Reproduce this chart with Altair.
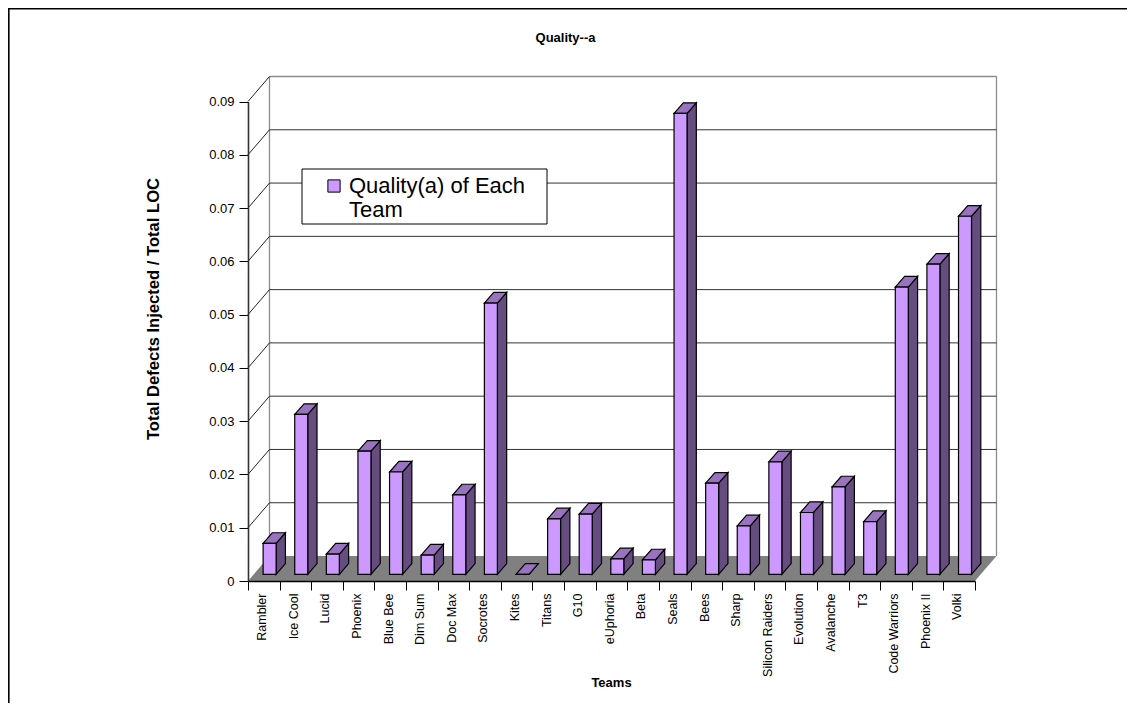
import altair as alt
import pandas as pd

teams = ["Rambler", "Ice Cool", "Lucid", "Phoenix", "Blue Bee", "Dim Sum", "Doc Max", "Socrotes",
         "Kites", "Titans", "G10", "eUphoria", "Beta", "Seals", "Bees", "Sharp", "Silicon Raiders",
         "Evolution", "Avalanche", "T3", "Code Warriors", "Phoenix II", "Volki"]
values = [0.0058, 0.0300, 0.0038, 0.0231, 0.0192, 0.0036, 0.0149, 0.0509, 0.0, 0.0104, 0.0113,
          0.0029, 0.0027, 0.0865, 0.0171, 0.0091, 0.0211, 0.0116, 0.0164, 0.0099, 0.0539, 0.0582, 0.0672]
y_ticks = [0, 0.01, 0.02, 0.03, 0.04, 0.05, 0.06, 0.07, 0.08, 0.09]
series_name = "Quality(a) of Each Team"

# projection of the 3-D depth into data units
N = len(teams)
wall_dx, wall_dy = 0.68, 0.00469
bar_dx, bar_dy = 0.294, 0.0020
bar_shift_x, bar_shift_y = 0.184, 0.00126
bar_w = 0.411

W, H = 1119, 695
OX, OY = 8, 8
x_scale = alt.Scale(domain=[0, N], range=[248 - OX, 975 - OX], nice=False, zero=False)
y_scale = alt.Scale(domain=[0, 0.09], range=[581 - OY, 101.5 - OY], nice=False, zero=False)

team_js = "[" + ",".join(f"'{t}'" for t in teams) + ",'']"
x_axis = alt.Axis(
    orient="bottom", offset=581 - OY - H, values=list(range(N + 1)), zindex=1,
    labelExpr=f"{team_js}[datum.value]", labelAngle=270, labelAlign="right", labelBaseline="middle",
    labelOffset=13.6, labelPadding=3, labelOverlap=False, labelFontSize=12.5, labelColor="#000",
    labelFont="Liberation Sans", tickSize=9, tickColor="#000", domainColor="#000", domainWidth=1.3,
    grid=False, title="Teams", titleFont="Liberation Sans", titleFontSize=13, titleFontWeight="bold",
    titleColor="#000", titleX=611 - OX, titleY=682 - 581 - 6)
y_axis = alt.Axis(
    orient="left", offset=-(248 - OX), values=y_ticks, format=".2~f", zindex=1, labelFontSize=13, labelColor="#000",
    labelFont="Liberation Sans", labelPadding=5, tickSize=9, tickColor="#000", domainColor="#333",
    domainWidth=1.6, grid=False, title="Total Defects Injected / Total LOC", titleFont="Liberation Sans",
    titleFontSize=16.6, titleFontWeight="bold", titleColor="#000", titleAngle=270,
    titleX=153 - 248, titleY=308.5 - OY, titleAlign="center", titleBaseline="middle")

X = lambda f: alt.X(f, scale=x_scale, axis=x_axis)
Y = lambda f: alt.Y(f, scale=y_scale, axis=y_axis)

front, side, top = [], [], []
for i, (t, v) in enumerate(zip(teams, values)):
    x0 = i + 0.5 - bar_w / 2 + bar_shift_x
    x1 = x0 + bar_w
    b = bar_shift_y
    front.append(dict(team=t, x0=x0, x1=x1, y0=b, y1=b + v, series=series_name))
    side.append(dict(team=t, x=x1, lo=b, hi=b + v))
    side.append(dict(team=t, x=x1 + bar_dx, lo=b + bar_dy, hi=b + v + bar_dy))
    top.append(dict(team=t, y=b + v, a=x0, c=x1))
    top.append(dict(team=t, y=b + v + bar_dy, a=x0 + bar_dx, c=x1 + bar_dx))
front, side, top = map(pd.DataFrame, (front, side, top))

floor = pd.DataFrame([dict(y=0, a=0, c=N), dict(y=wall_dy, a=wall_dx, c=N + wall_dx)])
grid = pd.DataFrame([dict(v=v, a=wall_dx, c=N + wall_dx, y=v + wall_dy) for v in y_ticks[1:-1]])
diag = pd.DataFrame([r for v in y_ticks[1:] for r in (dict(v=v, x=0, y=v), dict(v=v, x=wall_dx, y=v + wall_dy))])
top_y = y_ticks[-1] + wall_dy
wall_edges = pd.DataFrame([
    dict(k="l", x=wall_dx, y=wall_dy), dict(k="l", x=wall_dx, y=top_y),
    dict(k="t", x=wall_dx, y=top_y), dict(k="t", x=N + wall_dx, y=top_y),
    dict(k="r", x=N + wall_dx, y=top_y), dict(k="r", x=N + wall_dx, y=wall_dy),
])

frame = alt.Chart(pd.DataFrame({"k": [0]}))
frame_top = frame.mark_rule(color="#000", strokeWidth=1.6).encode(
    x=alt.value(0), x2=alt.value(W), y=alt.value(0.8))
frame_left = frame.mark_rule(color="#000", strokeWidth=1.6).encode(
    x=alt.value(0.8), y=alt.value(0), y2=alt.value(H))
legend_box = frame.mark_rect(fill="#fff", stroke="#000", strokeWidth=1).encode(
    x=alt.value(302 - OX), x2=alt.value(547 - OX), y=alt.value(169 - OY), y2=alt.value(224 - OY))

floor_l = alt.Chart(floor).mark_area(orient="horizontal", color="#808080").encode(
    y=Y("y:Q"), x=X("a:Q"), x2="c:Q")
wall_l = alt.Chart(wall_edges).mark_line(color="#8c8c8c", strokeWidth=1.3).encode(
    x=X("x:Q"), y=Y("y:Q"), detail="k:N")
grid_l = alt.Chart(grid).mark_rule(color="#333", strokeWidth=1).encode(
    x=X("a:Q"), x2="c:Q", y=Y("y:Q"))
diag_l = alt.Chart(diag).mark_line(color="#222", strokeWidth=1).encode(
    x=X("x:Q"), y=Y("y:Q"), detail="v:Q")

side_l = alt.Chart(side).mark_area(orient="vertical", color="#664D80", stroke="#000", strokeWidth=1.2).encode(
    x=X("x:Q"), y=Y("lo:Q"), y2="hi:Q", detail="team:N")
top_l = alt.Chart(top).mark_area(orient="horizontal", color="#9973BF", stroke="#000", strokeWidth=1.2).encode(
    y=Y("y:Q"), x=X("a:Q"), x2="c:Q", detail="team:N")
front_l = alt.Chart(front).mark_rect(stroke="#000", strokeWidth=1.2).encode(
    x=X("x0:Q"), x2="x1:Q", y=Y("y0:Q"), y2="y1:Q",
    color=alt.Color("series:N", scale=alt.Scale(domain=[series_name], range=["#CC99FF"]), legend=alt.Legend(
        title=None, orient="none", legendX=323 - OX, legendY=175 - OY, padding=0,
        symbolType="square", symbolSize=150, symbolStrokeColor="#000", symbolStrokeWidth=1,
        labelExpr="['Quality(a) of Each', 'Team']", labelFont="Liberation Sans",
        labelFontSize=22, labelColor="#000", labelLimit=400)),
)

chart = alt.layer(floor_l, wall_l, grid_l, diag_l, legend_box, side_l, top_l, front_l, frame_top, frame_left).properties(
    width=W, height=H, autosize=alt.AutoSizeParams(type="none"),
    padding=0,
    title=alt.TitleParams("Quality--a", font="Liberation Sans", fontSize=13, fontWeight="bold", color="#000",
                          anchor="middle", dx=-2, offset=-38),
).configure_view(stroke=None)

chart.save("out.html", embed_options={"renderer": "svg", "actions": False})
